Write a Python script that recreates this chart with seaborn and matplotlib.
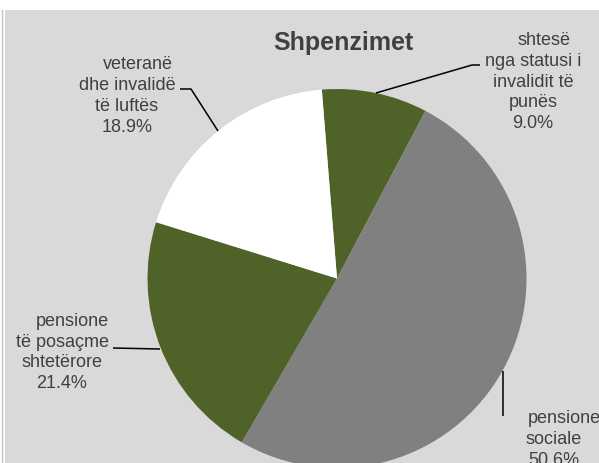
import matplotlib
matplotlib.use("Agg")
import matplotlib.pyplot as plt
from matplotlib.patches import Rectangle
import seaborn as sns

# Expenditure shares (percent), in clockwise order from the top
categories = [
    "shtesë nga statusi i invalidit të punës",
    "pensione sociale",
    "pensione të posaçme shtetërore",
    "veteranë dhe invalidë të luftës",
]
shares = [9.0, 50.6, 21.4, 18.9]
label_lines = [
    ["shtesë", "nga statusi i", "invalidit të", "punës"],
    ["pensione", "sociale"],
    ["pensione", "të posaçme", "shtetërore"],
    ["veteranë", "dhe invalidë", "të luftës"],
]
title = "Shpenzimet"

sns.set_style("white")
plt.rcParams["font.family"] = ["Liberation Sans", "DejaVu Sans"]

W, H = 599, 463
fig = plt.figure(figsize=(W / 100, H / 100), dpi=100)
fig.patch.set_facecolor("white")
ax = fig.add_axes([0, 0, 1, 1])


def Y(y):
    """Convert a top-down pixel row to the axes' bottom-up coordinate."""
    return H - y


palette = sns.color_palette(["#4f6228", "#808080", "#4f6228", "#ffffff"])
ax.add_patch(Rectangle((5, 0), W - 5, H - 10, facecolor="#d9d9d9",
                       edgecolor="none", zorder=0))
ax.plot([1.5, 1.5], [0, Y(10)], color="#c4c4c4", lw=1.0, zorder=0)

ax.pie(shares, colors=palette, startangle=94.6, counterclock=False,
       center=(337, Y(278.5)), radius=189.5,
       wedgeprops=dict(linewidth=0, antialiased=True), frame=False)
ax.set_xlim(0, W)
ax.set_ylim(0, H)
ax.set_axis_off()

text_color = "#404040"
ax.text(343, Y(50), title, ha="center", va="baseline", fontsize=18,
        fontweight="bold", color=text_color)

# Label block placement: (centre x, first baseline, first-line shift)
placements = [
    (533, 45.2, 11),
    (554, 423.2, 10),
    (62, 325.9, 10),
    (127, 69.4, 10.5),
]
line_step = 20.7
for lines, share, (cx, y0, shift) in zip(label_lines, shares, placements):
    rows = lines + [f"{share:.1f}%"]
    for i, row in enumerate(rows):
        x = cx + (shift if i == 0 else 0)
        ax.text(x, Y(y0 + i * line_step), row, ha="center", va="baseline",
                fontsize=13, color=text_color)

# Leader lines from the labels to the slices
leaders = [
    [(376, 93), (472, 65), (480, 65)],
    [(503, 371), (503, 416)],
    [(113, 348), (160, 349)],
    [(180, 89), (191, 89), (218, 131)],
]
for pts in leaders:
    xs = [p[0] for p in pts]
    ys = [Y(p[1]) for p in pts]
    ax.plot(xs, ys, color="black", lw=1.1, solid_capstyle="butt", zorder=3)

fig.savefig("out.png", dpi=100, facecolor=fig.get_facecolor())
